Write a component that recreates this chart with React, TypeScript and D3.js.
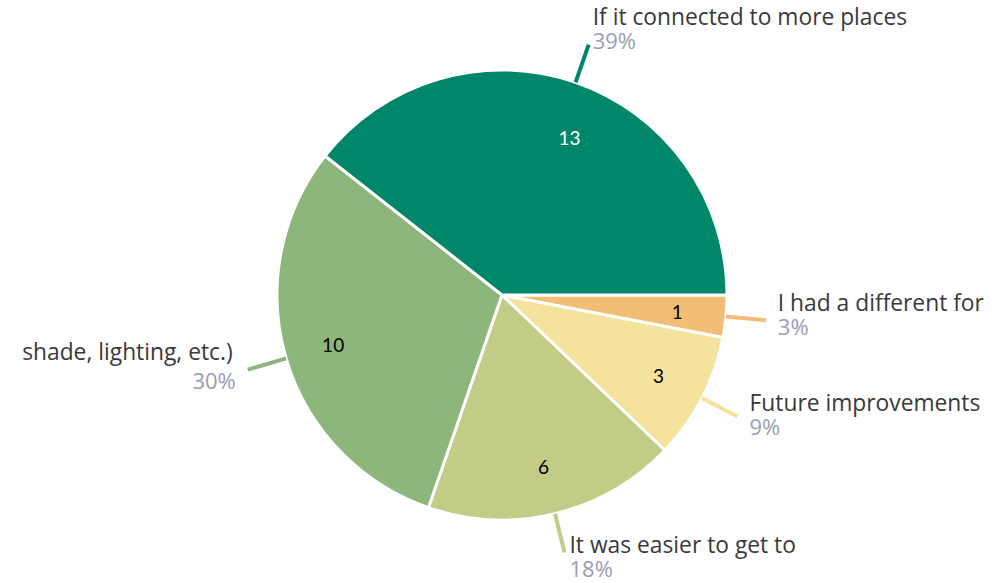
import React from 'react';
import * as d3 from 'd3';

// slices in clockwise order, starting at 3 o'clock
const categories = [
  'I had a different for',
  'Future improvements',
  'It was easier to get to',
  'shade, lighting, etc.)',
  'If it connected to more places',
];
const values = [1, 3, 6, 10, 13];
const sliceColors = ['#F2BE76', '#F5E39D', '#C2CC87', '#8DB67A', '#00876A'];
const valueTextColors = ['#000', '#000', '#000', '#000', '#fff'];

// label tweaks relative to the leader line end (Excel-ish manual layout)
const labelNudge = [
  { dx: 12, dy: -9, gap: 24, innerDx: 0, innerDy: 0 },
  { dx: 12, dy: -5, gap: 24, innerDx: 0, innerDy: 0 },
  { dx: 5, dy: 0, gap: 24, innerDx: 0, innerDy: 0 },
  { dx: -15, dy: -10, gap: 29, innerDx: 0, innerDy: 0 },
  { dx: 4, dy: -20, gap: 24, innerDx: 10, innerDy: 9 },
];

const W = 1007;
const H = 583;
const cx = 502;
const cy = 295;
const R = 225;

export default function App() {
  const total = d3.sum(values);
  const pie = d3
    .pie<number>()
    .sort(null)
    .startAngle(Math.PI / 2)
    .endAngle(Math.PI / 2 + 2 * Math.PI);
  const arcs = pie(values);

  const arc = d3.arc<d3.PieArcDatum<number>>().innerRadius(0).outerRadius(R);
  const valueArc = d3.arc<d3.PieArcDatum<number>>().innerRadius(176).outerRadius(176);
  const polar = (a: number, r: number) => [Math.sin(a) * r, -Math.cos(a) * r];

  return (
    <svg
      width={W}
      height={H}
      style={{ position: 'absolute', left: 0, top: 0, background: '#fff' }}
      fontFamily="'Open Sans', 'Noto Sans', sans-serif"
    >
      <g transform={`translate(${cx},${cy})`}>
        {arcs.map((d, i) => (
          <path key={i} d={arc(d) || ''} fill={sliceColors[i]} stroke="#fff" strokeWidth={3} />
        ))}
        {arcs.map((d, i) => {
          const [x, y] = valueArc.centroid(d);
          return (
            <text
              key={'v' + i}
              x={x + labelNudge[i].innerDx}
              y={y + labelNudge[i].innerDy}
              textAnchor="middle"
              dominantBaseline="central"
              fontSize={19}
              fontFamily="Lato, sans-serif"
              fill={valueTextColors[i]}
            >
              {d.value}
            </text>
          );
        })}
        {arcs.map((d, i) => {
          const mid = (d.startAngle + d.endAngle) / 2;
          const [x1, y1] = polar(mid, R);
          const [x2, y2] = polar(mid, 265);
          const left = x2 < 0;
          const n = labelNudge[i];
          const tx = x2 + n.dx;
          const ty = y2 + n.dy;
          const pct = Math.round((values[i] / total) * 100) + '%';
          return (
            <g key={'l' + i}>
              <line x1={x1} y1={y1} x2={x2} y2={y2} stroke={sliceColors[i]} strokeWidth={4} />
              <text x={tx} y={ty} textAnchor={left ? 'end' : 'start'} fontSize={22.8} fill="#3a3a3a">
                {categories[i]}
              </text>
              <text
                x={tx + (left ? 3 : 0)}
                y={ty + n.gap}
                textAnchor={left ? 'end' : 'start'}
                fontSize={22}
                fill="#9C9CB6"
              >
                {pct}
              </text>
            </g>
          );
        })}
      </g>
    </svg>
  );
}
